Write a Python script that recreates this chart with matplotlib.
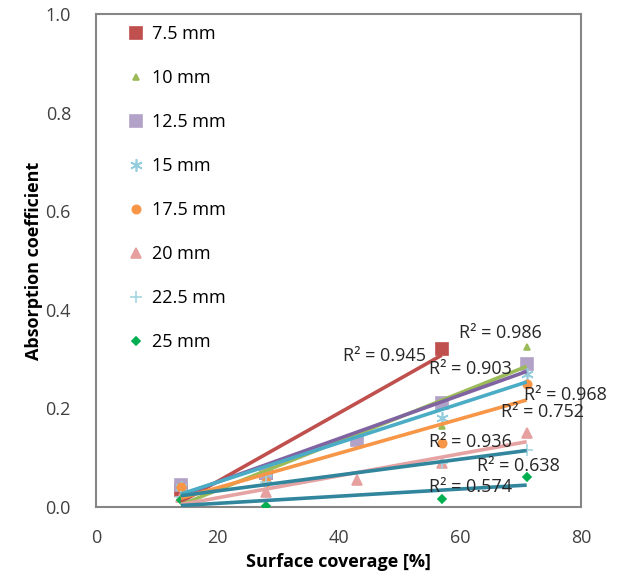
import numpy as np
import matplotlib.pyplot as plt

plt.rcParams["font.family"] = ["Open Sans", "DejaVu Sans"]

# surface coverage [%] and absorption coefficient per perforation diameter
labels = ["7.5 mm", "10 mm", "12.5 mm", "15 mm", "17.5 mm", "20 mm", "22.5 mm", "25 mm"]
x_five = [14, 28, 43, 57, 71]
x_four = [14, 28, 57, 71]
x_red = [14, 28, 57]

y_75 = [0.035, 0.07, 0.32]
y_10 = [0.02, 0.07, 0.165, 0.325]
y_125 = [0.045, 0.07, 0.135, 0.21, 0.29]
y_15 = [0.04, 0.07, 0.18, 0.27]
y_175 = [0.04, 0.05, 0.13, 0.25]
y_20 = [0.02, 0.03, 0.055, 0.09, 0.15]
y_225 = [0.02, 0.05, 0.09, 0.115]
y_25 = [0.015, 0.003, 0.017, 0.06]

r2_text = ["0.945", "0.986", "0.903", "0.968", "0.752", "0.936", "0.638", "0.574"]
r2_pos = [(40.8, 0.306), (59.8, 0.353), (54.9, 0.28), (70.6, 0.227),
          (66.8, 0.193), (54.9, 0.132), (62.8, 0.083), (54.9, 0.041)]

series = [
    (x_red, y_75, "s", "#C0504D", 8, "#C0504D"),
    (x_four, y_10, "^", "#9BBB59", 5, "#9BBB59"),
    (x_five, y_125, "s", "#B3A2C7", 8, "#8064A2"),
    (x_four, y_15, (6, 2, 0), "#93CDDD", 9, "#4BACC6"),
    (x_four, y_175, "o", "#F79646", 6, "#F79646"),
    (x_five, y_20, "^", "#E6A0A0", 7, "#E6A3A3"),
    (x_four, y_225, "+", "#A5D5E2", 9, "#31859C"),
    (x_four, y_25, "D", "#00B050", 4, "#31859C"),
]

fig = plt.figure(figsize=(6.25, 5.78), dpi=100)
ax = fig.add_axes([0.1536, 0.1228, 0.7764, 0.853])

handles = []
for (xs, ys, m, c, ms, lc), lab in zip(series, labels):
    h, = ax.plot(xs, ys, linestyle="none", marker=m, color=c, markersize=ms,
                 markeredgewidth=1.2, label=lab, zorder=3)
    handles.append(h)

for (xs, ys, m, c, ms, lc) in series:
    k, b = np.polyfit(xs, ys, 1)
    xx = np.array([min(xs), max(xs)])
    ax.plot(xx, k * xx + b, color=lc, linewidth=2.6, zorder=4,
            solid_capstyle="butt")

for t, (px, py) in zip(r2_text, r2_pos):
    ax.text(px, py, "R\u00b2 = " + t, fontsize=13, color="#262626",
            ha="left", va="center", zorder=5)

ax.set_xlim(0, 80)
ax.set_ylim(0, 1.0)
ax.set_xticks([0, 20, 40, 60, 80])
ax.set_yticks([0.0, 0.2, 0.4, 0.6, 0.8, 1.0])
ax.set_yticklabels(["0.0", "0.2", "0.4", "0.6", "0.8", "1.0"])
ax.tick_params(length=0, labelsize=13, colors="#404040")
ax.tick_params(axis="x", pad=16)
ax.tick_params(axis="y", pad=18)
for s in ax.spines.values():
    s.set_color("#868686")
    s.set_linewidth(1.5)

ax.set_xlabel("Surface coverage [%]", fontsize=13, fontweight="bold", labelpad=4)
ax.set_ylabel("Absorption coefficient", fontsize=13, fontweight="bold", labelpad=2)

ax.legend(handles=handles, loc="upper left", bbox_to_anchor=(0.068, 0.978),
          frameon=False, fontsize=13, labelspacing=1.44, handlelength=0.8,
          handletextpad=0.47, borderaxespad=0, borderpad=0)

fig.savefig("out.png", dpi=100)
